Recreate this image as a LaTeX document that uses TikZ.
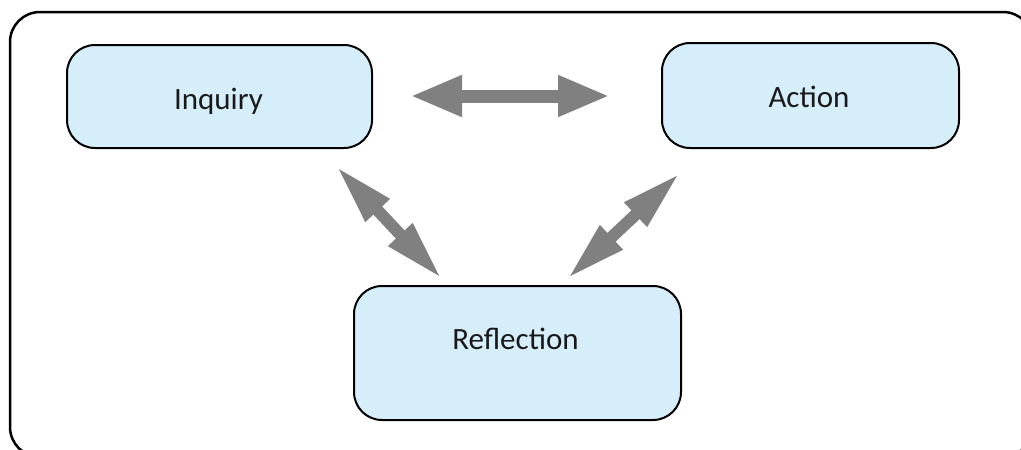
\documentclass[tikz,border=0pt]{standalone}
\usepackage{fontspec}
\setmainfont{Carlito}
\usetikzlibrary{arrows.meta}
\definecolor{boxfill}{RGB}{214,238,250}
\definecolor{arrowgray}{RGB}{128,128,128}
\begin{document}
\begin{tikzpicture}[x=1pt,y=-1pt,
  stage/.style={draw=black, line width=2pt, fill=boxfill, rounded corners=28pt, inner sep=0pt},
  lbl/.style={font=\fontsize{31}{37}\selectfont, text=black!90, inner sep=0pt, anchor=base},
  hlink/.style={draw=arrowgray, line width=13pt, {Triangle[length=52pt,width=38pt]}-{Triangle[length=52pt,width=38pt]}},
  dlink/.style={draw=arrowgray, line width=12pt, {Triangle[length=61pt,width=30pt]}-{Triangle[length=61pt,width=30pt]}}]
\useasboundingbox (0,0) rectangle (1021,450);
\begin{scope}
\clip (0,0) rectangle (1021,450);
\draw[line width=2.5pt, rounded corners=30pt] (10,12) rectangle (1033,457);
\end{scope}
\node[stage, minimum width=305pt, minimum height=103pt] (inq) at (219.5,96.5) {};
\node[stage, minimum width=297pt, minimum height=105pt] (act) at (810.5,95.5) {};
\node[stage, minimum width=327pt, minimum height=134pt] (ref) at (517.5,353) {};
\node[lbl] (inqt) at (218.5,109) {Inquiry};
\node[lbl] (actt) at (809,107) {Action};
\node[lbl] (reft) at (515.5,349) {Reflection};
\coordinate (h1) at (410,96);
\coordinate (h2) at (610,96);
\coordinate (l1) at (336,166);
\coordinate (l2) at (442,279);
\coordinate (r1) at (680,173);
\coordinate (r2) at (567,279);
\draw[hlink] (h1) -- (h2);
\draw[dlink] (l1) -- (l2);
\draw[dlink] (r1) -- (r2);
\end{tikzpicture}
\end{document}
